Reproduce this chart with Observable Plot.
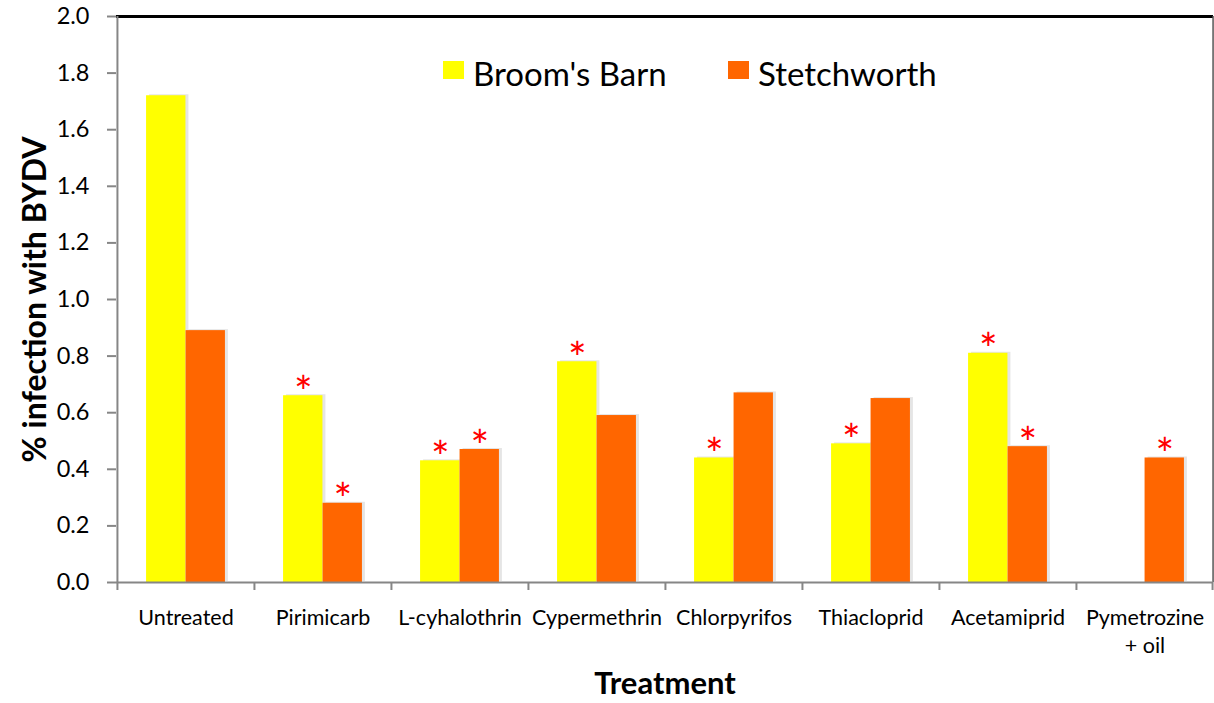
<!DOCTYPE html>
<html>
<head>
<meta charset="utf-8">
<script src="https://cdn.jsdelivr.net/npm/d3@7"></script>
<script src="https://cdn.jsdelivr.net/npm/@observablehq/plot@0.6"></script>
<style>
  html, body { margin: 0; padding: 0; background: #fff; }
  #wrap { position: relative; width: 1214px; height: 703px; font-family: Lato, "Noto Sans", sans-serif; }
  .leg { position: absolute; display: flex; align-items: flex-start; font-size: 33px; line-height: 1.2; color: #000; white-space: nowrap; }
  .sw { width: 21px; height: 18px; margin-top: 7px; margin-right: 9px; }
</style>
</head>
<body>
<div id="wrap"></div>
<script>
const treatments = ["Untreated", "Pirimicarb", "L-cyhalothrin", "Cypermethrin", "Chlorpyrifos", "Thiacloprid", "Acetamiprid", "Pymetrozine + oil"];
const series = ["Broom's Barn", "Stetchworth"];
const broomsBarn = [1.72, 0.66, 0.43, 0.78, 0.44, 0.49, 0.81, null];
const stetchworth = [0.89, 0.28, 0.47, 0.59, 0.67, 0.65, 0.48, 0.44];
const sigBroomsBarn = [false, true, true, true, true, true, true, false];
const sigStetchworth = [false, true, true, false, false, false, true, true];
const yTicks = [0, 0.2, 0.4, 0.6, 0.8, 1.0, 1.2, 1.4, 1.6, 1.8, 2.0];
const colors = ["#FFFF00", "#FF6600"];

const rows = [];
treatments.forEach((t, i) => {
  if (broomsBarn[i] != null) rows.push({treatment: t, site: series[0], value: broomsBarn[i], sig: sigBroomsBarn[i]});
  if (stetchworth[i] != null) rows.push({treatment: t, site: series[1], value: stetchworth[i], sig: sigStetchworth[i]});
});

const W = 1214, H = 703, mL = 116, mR = 1, mT = 16, mB = 121;
const step = (W - mL - mR) / treatments.length;
const barW = 39.5;
const outer = (step - 2 * barW) / 2;
const bb = rows.filter(d => d.site === series[0]);
const st = rows.filter(d => d.site === series[1]);
const font = "Lato, 'Noto Sans', sans-serif";

const chart = Plot.plot({
  width: W, height: H,
  marginLeft: mL, marginRight: mR, marginTop: mT, marginBottom: mB,
  style: {fontFamily: font, background: "#fff", color: "#000"},
  x: {domain: treatments, padding: 0, label: null},
  y: {domain: [0, 2], label: null},
  marks: [
    // soft shadows
    Plot.barY(bb, {x: "treatment", y: "value", insetLeft: outer, insetRight: outer + barW, dx: 3, dy: -1, fill: "#000", fillOpacity: 0.1}),
    Plot.barY(st, {x: "treatment", y: "value", insetLeft: outer + barW, insetRight: outer, dx: 3, dy: -1, fill: "#000", fillOpacity: 0.1}),
    Plot.barY(bb, {x: "treatment", y: "value", insetLeft: outer, insetRight: outer + barW, fill: colors[0]}),
    Plot.barY(st, {x: "treatment", y: "value", insetLeft: outer + barW, insetRight: outer, fill: colors[1]}),
    Plot.text(bb.filter(d => d.sig), {x: "treatment", y: "value", text: () => "*", dx: -barW / 2, dy: -2, fontSize: 44, fill: "#FF0000", lineAnchor: "middle"}),
    Plot.text(st.filter(d => d.sig), {x: "treatment", y: "value", text: () => "*", dx: barW / 2, dy: -2, fontSize: 44, fill: "#FF0000", lineAnchor: "middle"}),
    // frame lines
    Plot.ruleY([2], {stroke: "#000", strokeWidth: 3}),
    Plot.ruleX([treatments[treatments.length - 1]], {dx: step / 2 - 0.5, stroke: "#555", strokeWidth: 1.5}),
    Plot.ruleX([treatments[0]], {dx: -step / 2, stroke: "#868686", strokeWidth: 2}),
    Plot.ruleY([0], {stroke: "#868686", strokeWidth: 2}),
    // y axis
    Plot.axisY({ticks: yTicks, tickFormat: d3.format(".1f"), tickSize: 9, tickPadding: 18, fontSize: 23.5, stroke: "#868686", strokeWidth: 2, label: null}),
    // x axis boundary ticks
    Plot.axisX({tickSize: 8, text: null, dx: -step / 2, stroke: "#868686", strokeWidth: 2, label: null}),
    Plot.axisX({ticks: [treatments[treatments.length - 1]], tickSize: 8, text: null, dx: step / 2 - 1, stroke: "#868686", strokeWidth: 2, label: null}),
    // x labels
    Plot.axisX({tickSize: 0, tickPadding: 23, fontSize: 21.5, lineHeight: 1.3, tickFormat: d => d === "Pymetrozine + oil" ? "Pymetrozine\n+ oil" : d, label: null}),
    // titles
    Plot.text(["% infection with BYDV"], {frameAnchor: "left", text: d => d, rotate: -90, dx: -81, textAnchor: "middle", lineAnchor: "middle", fontSize: 32, fontWeight: "bold", fill: "#000"}),
    Plot.text(["Treatment"], {frameAnchor: "bottom", text: d => d, dy: 102, textAnchor: "middle", lineAnchor: "middle", fontSize: 31, fontWeight: "bold", fill: "#000"})
  ]
});

const wrap = document.getElementById("wrap");
wrap.appendChild(chart);

// legend overlay
const legendItems = [{label: series[0], color: colors[0], left: 443}, {label: series[1], color: colors[1], left: 728}];
legendItems.forEach(it => {
  const d = document.createElement("div");
  d.className = "leg";
  d.style.left = it.left + "px";
  d.style.top = "54px";
  const s = document.createElement("span");
  s.className = "sw";
  s.style.background = it.color;
  const t = document.createElement("span");
  t.textContent = it.label;
  d.appendChild(s); d.appendChild(t);
  wrap.appendChild(d);
});
</script>
</body>
</html>
